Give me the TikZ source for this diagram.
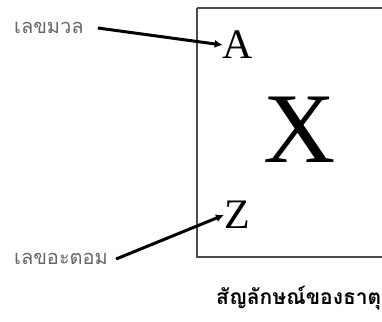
\documentclass[tikz,border=0pt]{standalone}
\usepackage{fontspec}
\setmainfont{Liberation Serif}
\newfontfamily\thaifont[Script=Thai]{Loma}
\usetikzlibrary{arrows.meta}
\begin{document}
\begin{tikzpicture}[x=1pt,y=-1pt,
  lbl/.style={font=\thaifont\fontsize{20}{22}\selectfont, text=black!60, inner sep=0pt, anchor=west},
  arr/.style={line width=3pt, -{Latex[length=8pt,width=8pt]}},
  letter/.style={inner sep=0pt}]
\useasboundingbox (0,0) rectangle (382,321);
\draw[black!70, line width=1.2pt] (197,8) -- (390,8) (197,8) -- (197,257) -- (390,257);
\node[letter, font=\fontsize{42}{42}\selectfont] (A) at (238,45) {A};
\node[letter, font=\fontsize{100}{100}\selectfont] (X) at (300,130) {X};
\node[letter, font=\fontsize{42}{42}\selectfont] (Z) at (237,215) {Z};
\node[lbl] (mass) at (14,28) {เลขมวล};
\node[lbl] (atom) at (14,259) {เลขอะตอม};
\node[font=\thaifont\bfseries\fontsize{21}{23}\selectfont, inner sep=0pt, anchor=west] (sym) at (216,298) {สัญลักษณ์ของธาตุ};
\draw[arr] ([xshift=14pt]mass.east) -- (A.west);
\draw[arr] ([xshift=8pt]atom.east) -- (Z.west);
\end{tikzpicture}
\end{document}
